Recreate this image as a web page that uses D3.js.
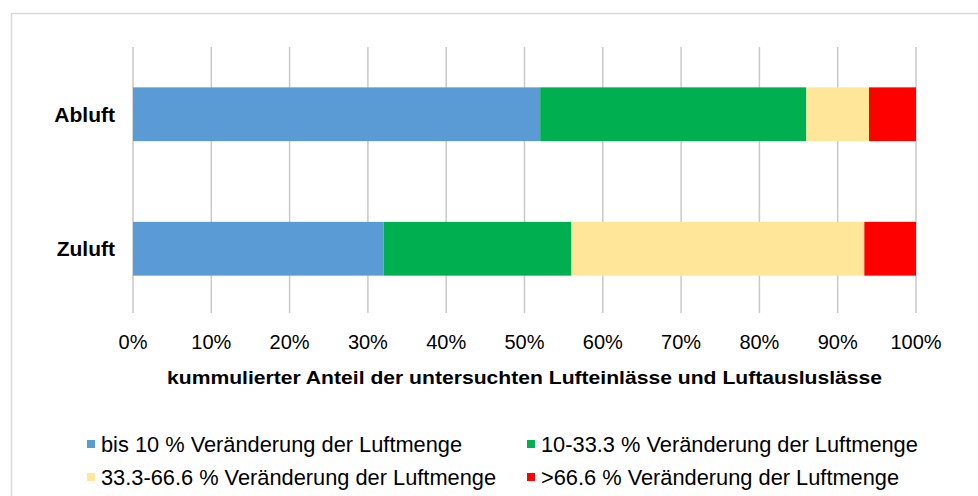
<!DOCTYPE html>
<html>
<head>
<meta charset="utf-8">
<script src="https://cdn.jsdelivr.net/npm/d3@7"></script>
<style>
  body { margin: 0; background: #fff; }
  text { font-family: "Liberation Sans", Arial, sans-serif; fill: #000; }
</style>
</head>
<body>
<div id="chart"></div>
<script>
// categories, top to bottom
const categories = ["Abluft", "Zuluft"];

// share of each class in percent, per category
const bis10 = [52, 32];
const von10bis33 = [34, 24];
const von33bis66 = [8, 37.4];
const ueber66 = [6, 6.6];

const seriesNames = [
  "bis 10 % Veränderung der Luftmenge",
  "10-33.3 % Veränderung der Luftmenge",
  "33.3-66.6 % Veränderung der Luftmenge",
  ">66.6 % Veränderung der Luftmenge"
];
const seriesColors = ["#5b9bd5", "#00b050", "#ffe699", "#ff0000"];

const xTicks = [0, 10, 20, 30, 40, 50, 60, 70, 80, 90, 100];
const xTitle = "kummulierter Anteil der untersuchten Lufteinlässe und Luftausluslässe";

const width = 978, height = 496;

const svg = d3.select("#chart").append("svg")
    .attr("width", width)
    .attr("height", height);

// outer frame, runs off the right and bottom edge
svg.append("rect")
    .attr("x", 11.5)
    .attr("y", 13.5)
    .attr("width", 1000)
    .attr("height", 600)
    .attr("fill", "none")
    .attr("stroke", "#d9d9d9")
    .attr("stroke-width", 1.5);

const x = d3.scaleLinear()
    .domain([0, 100])
    .range([133, 916]);

const y = d3.scaleBand()
    .domain(categories)
    .range([47, 316])
    .paddingInner(0.6)
    .paddingOuter(0.3);

// gridlines
svg.append("g")
  .selectAll("line")
  .data(xTicks)
  .join("line")
    .attr("x1", d => x(d))
    .attr("x2", d => x(d))
    .attr("y1", 47)
    .attr("y2", 313)
    .attr("stroke", "#c9c9c9")
    .attr("stroke-width", 1.5);

const table = categories.map((c, i) => ({
  cat: c,
  values: [bis10[i], von10bis33[i], von33bis66[i], ueber66[i]]
}));

const stack = d3.stack()
    .keys([0, 1, 2, 3])
    .value((d, k) => d.values[k]);

svg.append("g")
  .selectAll("g")
  .data(stack(table))
  .join("g")
    .attr("fill", (d, i) => seriesColors[i])
  .selectAll("rect")
  .data(d => d)
  .join("rect")
    .attr("x", d => x(d[0]))
    .attr("width", d => x(d[1]) - x(d[0]))
    .attr("y", d => y(d.data.cat))
    .attr("height", y.bandwidth());

// category labels
svg.append("g")
  .selectAll("text")
  .data(categories)
  .join("text")
    .attr("x", 115)
    .attr("y", d => y(d) + y.bandwidth() / 2)
    .attr("dy", "0.35em")
    .attr("text-anchor", "end")
    .attr("font-weight", "bold")
    .attr("font-size", 21)
    .text(d => d);

// tick labels
svg.append("g")
  .selectAll("text")
  .data(xTicks)
  .join("text")
    .attr("x", d => x(d))
    .attr("y", 349)
    .attr("text-anchor", "middle")
    .attr("font-size", 20)
    .text(d => d + "%");

// axis title, a bit wider than the font gives
svg.append("text")
    .attr("x", 524.5)
    .attr("y", 384)
    .attr("text-anchor", "middle")
    .attr("font-weight", "bold")
    .attr("font-size", 19)
    .attr("textLength", 715)
    .attr("lengthAdjust", "spacingAndGlyphs")
    .text(xTitle);

// legend, two columns
const legendPos = [[87, 440], [527, 440], [87, 473], [527, 473]];

const legend = svg.append("g")
  .selectAll("g")
  .data(seriesNames)
  .join("g")
    .attr("transform", (d, i) => "translate(" + legendPos[i][0] + "," + legendPos[i][1] + ")");

legend.append("rect")
    .attr("width", 8)
    .attr("height", 8)
    .attr("fill", (d, i) => seriesColors[i]);

legend.append("text")
    .attr("x", 14)
    .attr("y", 4)
    .attr("dy", "0.35em")
    .attr("font-size", 21.8)
    .text(d => d);
</script>
</body>
</html>
